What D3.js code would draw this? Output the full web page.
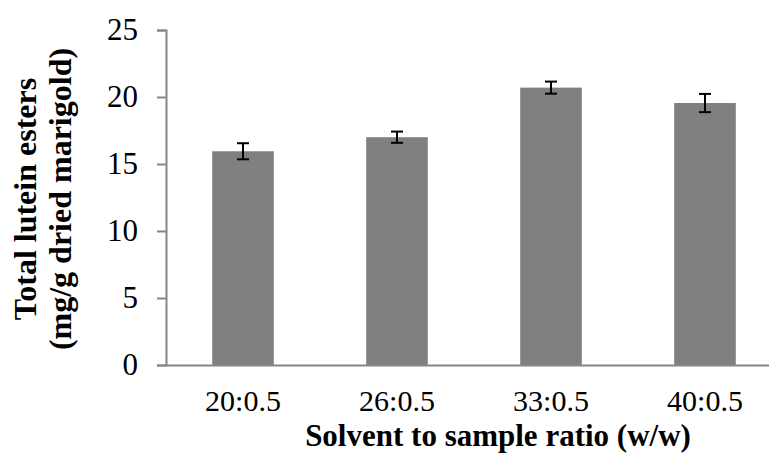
<!DOCTYPE html>
<html><head><meta charset="utf-8">
<script src="https://cdn.jsdelivr.net/npm/d3@7"></script>
<style>body{margin:0;background:#fff}svg{display:block}</style>
</head><body>
<svg id="c" width="769" height="453"></svg>
<script>
const categories = ["20:0.5", "26:0.5", "33:0.5", "40:0.5"];
const values = [15.95, 17.0, 20.7, 19.55];
const errors = [0.6, 0.42, 0.45, 0.68];
const yTicks = [0, 5, 10, 15, 20, 25];
const yTitle = ["Total lutein esters", "(mg/g dried marigold)"];
const xTitle = "Solvent to sample ratio (w/w)";

const svg = d3.select("#c");
const font = "'Liberation Serif','Times New Roman',serif";
const x = d3.scaleBand().domain(categories).range([166, 782]).paddingInner(0.6).paddingOuter(0.3);
const y = d3.scaleLinear().domain([0, 25]).range([365, 30]);

// bars
svg.selectAll("rect.bar").data(categories).enter().append("rect")
  .attr("x", d => x(d)).attr("width", x.bandwidth())
  .attr("y", (d, i) => y(values[i])).attr("height", (d, i) => y(0) - y(values[i]))
  .attr("fill", "#808080");

// y axis
const ya = svg.append("g").attr("transform", "translate(166,0)")
  .call(d3.axisLeft(y).tickValues(yTicks).tickSize(9).tickSizeOuter(9).tickPadding(19));
ya.select(".domain").attr("stroke", "#868686").attr("stroke-width", 2);
ya.selectAll(".tick line").attr("stroke", "#868686").attr("stroke-width", 2);
ya.selectAll("text").attr("font-family", font).attr("font-size", 31).attr("fill", "#000");

// x axis
const xa = svg.append("g").attr("transform", "translate(0,365)")
  .call(d3.axisBottom(x).tickSize(0).tickPadding(25));
xa.select(".domain").attr("stroke", "#868686").attr("stroke-width", 2);
xa.selectAll("text").attr("font-family", font).attr("font-size", 30).attr("fill", "#000");

// error bars
const eb = svg.append("g").attr("stroke", "#000").attr("stroke-width", 2);
categories.forEach((c, i) => {
  const cx = x(c) + x.bandwidth() / 2;
  const t = y(values[i] + errors[i]), b = y(values[i] - errors[i]);
  eb.append("line").attr("x1", cx).attr("x2", cx).attr("y1", t).attr("y2", b);
  eb.append("line").attr("x1", cx - 6).attr("x2", cx + 6).attr("y1", t).attr("y2", t);
  eb.append("line").attr("x1", cx - 6).attr("x2", cx + 6).attr("y1", b).attr("y2", b);
});

// titles
svg.append("text").attr("x", 498).attr("y", 446).attr("text-anchor", "middle")
  .attr("font-family", font).attr("font-weight", "bold").attr("font-size", 31).text(xTitle);
const yt = svg.append("text").attr("transform", "translate(0,199) rotate(-90)")
  .attr("text-anchor", "middle").attr("font-family", font).attr("font-weight", "bold").attr("font-size", 32);
yt.append("tspan").attr("x", 0).attr("y", 36).text(yTitle[0]);
yt.append("tspan").attr("x", 0).attr("y", 71).text(yTitle[1]);
</script>
</body></html>
